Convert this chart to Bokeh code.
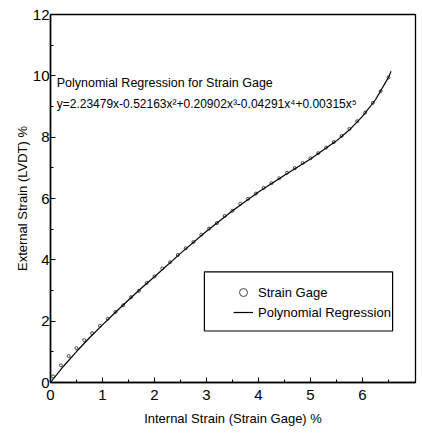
from bokeh.plotting import figure
from bokeh.models import Range1d, FixedTicker, Label, Legend, LegendItem, BoxAnnotation
from bokeh.embed import file_html
from bokeh.resources import INLINE

FONT = "Liberation Sans"

# Measured data (Strain Gage)
gage_x = [0.05, 0.2, 0.35, 0.5, 0.65, 0.8, 0.95, 1.1, 1.25, 1.4, 1.55, 1.7, 1.85, 2.0,
          2.15, 2.3, 2.45, 2.6, 2.75, 2.9, 3.05, 3.2, 3.35, 3.5, 3.65, 3.8, 3.95, 4.1,
          4.25, 4.4, 4.55, 4.7, 4.85, 5.0, 5.15, 5.3, 5.45, 5.6, 5.75, 5.9, 6.05, 6.2,
          6.35, 6.5]
gage_y = [0.20, 0.56, 0.86, 1.12, 1.38, 1.61, 1.85, 2.08, 2.30, 2.52, 2.78, 2.99, 3.25, 3.46,
          3.72, 3.92, 4.16, 4.38, 4.58, 4.82, 5.02, 5.20, 5.43, 5.60, 5.83, 5.99, 6.16, 6.35,
          6.50, 6.66, 6.84, 6.99, 7.16, 7.31, 7.48, 7.66, 7.84, 8.04, 8.27, 8.52, 8.80, 9.12,
          9.50, 9.95]

# Polynomial regression curve
fit_x = [0.0, 0.25, 0.5, 0.75, 1.0, 1.25, 1.5, 1.75, 2.0, 2.5, 3.0, 3.5, 4.0, 4.5, 5.0,
         5.5, 5.75, 6.0, 6.25, 6.5, 6.55]
fit_y = [0.0, 0.53, 1.01, 1.46, 1.88, 2.29, 2.69, 3.08, 3.45, 4.21, 4.93, 5.60, 6.21, 6.76,
         7.29, 7.88, 8.24, 8.68, 9.22, 9.95, 10.15]

x_ticks = [0, 1, 2, 3, 4, 5, 6]
y_ticks = [0, 2, 4, 6, 8, 10, 12]

title_line1 = "Polynomial Regression for Strain Gage"
title_line2 = "y=2.23479x-0.52163x\u00b2+0.20902x\u00b3-0.04291x\u2074+0.00315x\u2075"

p = figure(width=417, height=430, output_backend="svg", toolbar_location=None,
           x_range=Range1d(0, 7.02), y_range=Range1d(0, 12),
           min_border_left=50, min_border_right=2, min_border_top=14, min_border_bottom=48)
p.background_fill_color = "white"
p.border_fill_color = "white"
p.outline_line_color = "black"
p.outline_line_width = 1.3
p.xgrid.visible = False
p.ygrid.visible = False

for ax in (p.xaxis[0], p.yaxis[0]):
    ax.axis_line_color = "black"
    ax.axis_line_width = 1.5
    ax.major_tick_in = 5
    ax.major_tick_out = 0
    ax.minor_tick_in = 3
    ax.minor_tick_out = 0
    ax.major_tick_line_color = "black"
    ax.minor_tick_line_color = "black"
    ax.major_label_text_font = FONT
    ax.major_label_text_font_size = "15px"
    ax.major_label_text_color = "black"
    ax.axis_label_text_font = FONT
    ax.axis_label_text_font_size = "13px"
    ax.axis_label_text_font_style = "normal"
    ax.axis_label_text_color = "black"

p.xaxis[0].ticker = FixedTicker(ticks=x_ticks, minor_ticks=[v + 0.5 for v in x_ticks])
p.yaxis[0].ticker = FixedTicker(ticks=y_ticks, minor_ticks=[v + 1 for v in y_ticks[:-1]])
p.xaxis[0].major_label_standoff = 7
p.xaxis[0].axis_label_standoff = 8
p.yaxis[0].major_label_standoff = 1
p.yaxis[0].axis_label_standoff = 0
p.xaxis[0].axis_label = "Internal Strain (Strain Gage) %"
p.yaxis[0].axis_label = "External Strain (LVDT) %"

pts = p.scatter(gage_x, gage_y, marker="circle", size=3, fill_color=None,
                line_color="#333333", line_width=0.9)
ln = p.line(fit_x, fit_y, line_color="black", line_width=1.2)

# legend frame
p.add_layout(BoxAnnotation(left=2.96, right=6.58, bottom=1.68, top=3.61,
                           fill_alpha=0, line_color="black", line_alpha=1.0, line_width=1.2))

legend = Legend(items=[LegendItem(label="Strain Gage", renderers=[pts]),
                       LegendItem(label="Polynomial Regression", renderers=[ln])],
                location=(183, 60), padding=0, margin=0, spacing=0,
                glyph_width=20, glyph_height=20, label_height=20, label_standoff=5,
                border_line_color=None, background_fill_alpha=0,
                label_text_font=FONT, label_text_font_size="13px", label_text_color="black")
p.add_layout(legend)

p.add_layout(Label(x=0.12, y=9.55, text=title_line1, text_font=FONT,
                   text_font_size="12.5px", text_color="black"))
p.add_layout(Label(x=0.12, y=8.85, text=title_line2, text_font=FONT,
                   text_font_size="12px", text_color="black"))

open("out.html", "w").write(file_html(p, INLINE))
